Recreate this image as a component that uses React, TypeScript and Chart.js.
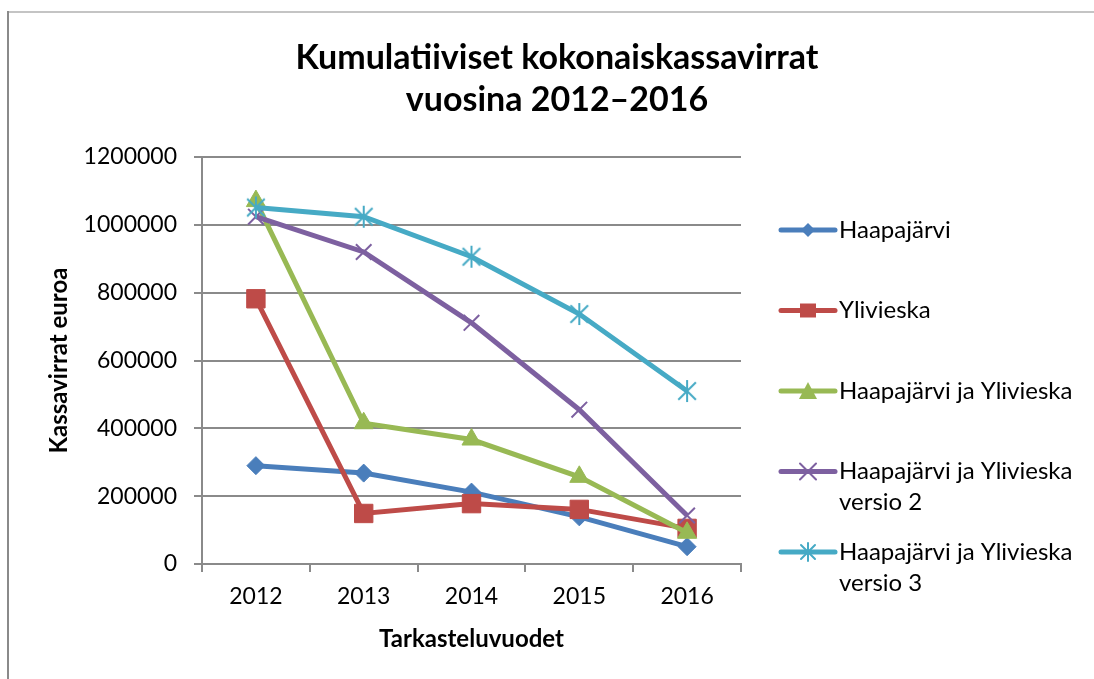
import React, { useEffect, useRef } from 'react';
import { Chart, registerables } from 'chart.js';

Chart.register(...registerables);

// ---- data ----
const years = ['2012', '2013', '2014', '2015', '2016'];
const haapajarvi = [290000, 268000, 212000, 139000, 51000];
const ylivieska = [782000, 149000, 178000, 161000, 105000];
const haapajarviJaYlivieska = [1070000, 415000, 367000, 257000, 92000];
const versio2 = [1024000, 920000, 711000, 455000, 143000];
const versio3 = [1051000, 1024000, 906000, 737000, 510000];
const seriesNames = [
  'Haapajärvi',
  'Ylivieska',
  'Haapajärvi ja Ylivieska',
  'Haapajärvi ja Ylivieska versio 2',
  'Haapajärvi ja Ylivieska versio 3',
];
const titleLines = ['Kumulatiiviset kokonaiskassavirrat', 'vuosina 2012–2016'];
const yAxisTitle = 'Kassavirrat euroa';
const xAxisTitle = 'Tarkasteluvuodet';
const yMin = 0;
const yMax = 1200000;
const yStep = 200000;

// ---- styles ----
const colors = ['#4a7ebb', '#be4b48', '#98b954', '#7d60a0', '#46aac5'];
const FONT = 'Lato, "Liberation Sans", sans-serif';
const W = 1094;
const H = 679;
const AREA = { left: 202, right: 741, top: 157, bottom: 564 };

function makeStar(color: string, size: number) {
  const c = document.createElement('canvas');
  c.width = size;
  c.height = size;
  const g = c.getContext('2d')!;
  const m = size / 2;
  const r = size / 2 - 2;
  g.strokeStyle = color;
  g.lineWidth = 2;
  g.beginPath();
  g.moveTo(m, m - r);
  g.lineTo(m, m + r);
  const d = r * 0.8;
  g.moveTo(m - d, m - d);
  g.lineTo(m + d, m + d);
  g.moveTo(m + d, m - d);
  g.lineTo(m - d, m + d);
  g.stroke();
  return c;
}

function drawLegendMarker(ctx: CanvasRenderingContext2D, i: number, x: number, y: number) {
  const col = colors[i];
  ctx.save();
  ctx.fillStyle = col;
  ctx.strokeStyle = col;
  ctx.beginPath();
  if (i === 0) {
    ctx.moveTo(x, y - 7);
    ctx.lineTo(x + 7, y);
    ctx.lineTo(x, y + 7);
    ctx.lineTo(x - 7, y);
    ctx.closePath();
    ctx.fill();
  } else if (i === 1) {
    ctx.rect(x - 8, y - 7, 16, 14);
    ctx.fill();
  } else if (i === 2) {
    ctx.moveTo(x, y - 9);
    ctx.lineTo(x + 9, y + 8);
    ctx.lineTo(x - 9, y + 8);
    ctx.closePath();
    ctx.fill();
  } else if (i === 3) {
    ctx.lineWidth = 2;
    ctx.moveTo(x - 8, y - 8);
    ctx.lineTo(x + 8, y + 8);
    ctx.moveTo(x + 8, y - 8);
    ctx.lineTo(x - 8, y + 8);
    ctx.stroke();
  } else {
    ctx.lineWidth = 2;
    ctx.moveTo(x, y - 9);
    ctx.lineTo(x, y + 9);
    ctx.moveTo(x - 7, y - 7);
    ctx.lineTo(x + 7, y + 7);
    ctx.moveTo(x + 7, y - 7);
    ctx.lineTo(x - 7, y + 7);
    ctx.stroke();
  }
  ctx.restore();
}

function wrap(ctx: CanvasRenderingContext2D, text: string, maxW: number) {
  const words = text.split(' ');
  const lines: string[] = [];
  let cur = '';
  for (const w of words) {
    const t = cur ? cur + ' ' + w : w;
    if (ctx.measureText(t).width > maxW && cur) {
      lines.push(cur);
      cur = w;
    } else cur = t;
  }
  if (cur) lines.push(cur);
  return lines;
}

const decorPlugin = {
  id: 'decor',
  beforeDraw(chart: any) {
    const ctx = chart.ctx as CanvasRenderingContext2D;
    ctx.save();
    ctx.fillStyle = '#ffffff';
    ctx.fillRect(0, 0, W, H);
    ctx.lineWidth = 2;
    ctx.strokeStyle = '#c4c4c4';
    ctx.beginPath();
    ctx.moveTo(8, 12);
    ctx.lineTo(W, 12);
    ctx.stroke();
    ctx.strokeStyle = '#8a8a8a';
    ctx.beginPath();
    ctx.moveTo(8, 11);
    ctx.lineTo(8, H);
    ctx.stroke();
    ctx.restore();
  },
  afterDraw(chart: any) {
    const ctx = chart.ctx as CanvasRenderingContext2D;
    ctx.save();
    // title
    ctx.fillStyle = '#000000';
    ctx.textAlign = 'center';
    ctx.textBaseline = 'middle';
    ctx.font = `bold 34px ${FONT}`;
    ctx.fillText(titleLines[0], 557, 58);
    ctx.fillText(titleLines[1], 557, 100);
    // legend
    ctx.font = `24px ${FONT}`;
    ctx.textAlign = 'left';
    const x0 = 781;
    const x1 = 835;
    const tx = 839;
    chart.data.datasets.forEach((ds: any, i: number) => {
      const y = 230 + i * 80.5;
      ctx.strokeStyle = colors[i];
      ctx.lineWidth = 5;
      ctx.lineCap = 'round';
      ctx.beginPath();
      ctx.moveTo(x0, y);
      ctx.lineTo(x1, y);
      ctx.stroke();
      drawLegendMarker(ctx, i, (x0 + x1) / 2, y);
      ctx.fillStyle = '#000000';
      const lines = wrap(ctx, ds.label, W - tx - 10);
      lines.forEach((ln, k) => ctx.fillText(ln, tx, y + k * 31));
    });
    ctx.restore();
  },
};

export default function App() {
  const ref = useRef<HTMLCanvasElement | null>(null);

  useEffect(() => {
    document.body.style.margin = '0';
    const canvas = ref.current!;
    const star = makeStar(colors[4], 26);
    const values = [haapajarvi, ylivieska, haapajarviJaYlivieska, versio2, versio3];
    const styles: any[] = ['rectRot', 'rect', 'triangle', 'crossRot', star];
    const radii = [9, 13, 11, 11, 11];
    const chart = new Chart(canvas, {
      type: 'line',
      data: {
        labels: years,
        datasets: values.map((v, i) => ({
          label: seriesNames[i],
          data: v,
          borderColor: colors[i],
          backgroundColor: colors[i],
          borderWidth: 5,
          pointStyle: styles[i],
          pointRadius: radii[i],
          pointBorderWidth: i === 3 ? 2 : 1,
          pointBackgroundColor: colors[i],
          pointBorderColor: colors[i],
          tension: 0,
          order: 4 - i,
        })),
      },
      options: {
        animation: false,
        responsive: false,
        maintainAspectRatio: false,
        layout: {
          padding: { left: 30, right: W - AREA.right, top: AREA.top, bottom: 0 },
        },
        plugins: {
          legend: { display: false },
          title: { display: false },
          tooltip: { enabled: false },
        },
        scales: {
          x: {
            offset: true,
            afterFit: (s: any) => {
              s.height = H - AREA.bottom;
            },
            grid: {
              offset: true,
              drawOnChartArea: false,
              drawTicks: true,
              tickLength: 8,
              color: '#8a8a8a',
              lineWidth: 2,
            },
            border: { color: '#8a8a8a', width: 2 },
            ticks: {
              color: '#000000',
              font: { family: FONT, size: 23 },
              padding: 11,
              maxRotation: 0,
            },
            title: {
              display: true,
              text: xAxisTitle,
              color: '#000000',
              font: { family: FONT, size: 24, weight: 'bold' },
              padding: { top: 0, bottom: 25 },
            },
          },
          y: {
            min: yMin,
            max: yMax,
            afterFit: (s: any) => {
              s.width = AREA.left - 30;
            },
            grid: {
              color: '#8a8a8a',
              lineWidth: 2,
              drawTicks: true,
              tickLength: 8,
            },
            border: { color: '#8a8a8a', width: 2 },
            ticks: {
              stepSize: yStep,
              color: '#000000',
              font: { family: FONT, size: 23 },
              padding: 17,
              callback: (v: any) => String(v),
            },
            title: {
              display: true,
              text: yAxisTitle,
              color: '#000000',
              font: { family: FONT, size: 24, weight: 'bold' },
              padding: { top: 15, bottom: 0 },
            },
          },
        },
      },
      plugins: [decorPlugin],
    });
    return () => chart.destroy();
  }, []);

  return <canvas ref={ref} width={W} height={H} style={{ display: 'block', width: W, height: H }} />;
}
